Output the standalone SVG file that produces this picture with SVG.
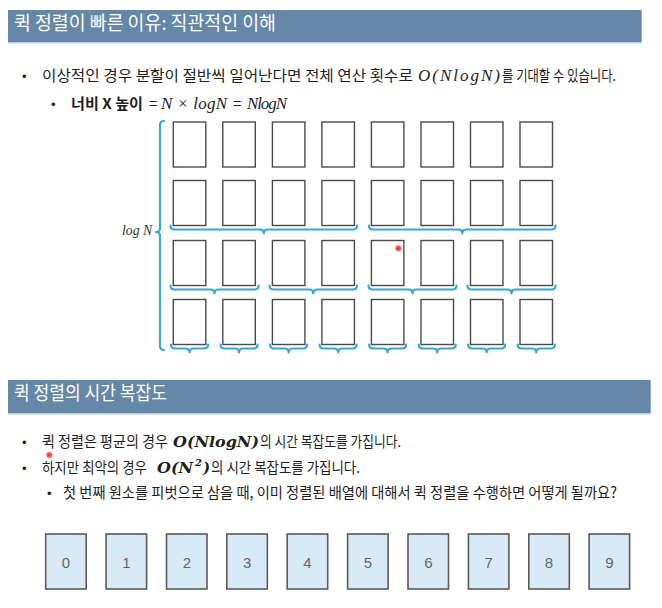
<svg xmlns="http://www.w3.org/2000/svg" width="662" height="608" viewBox="0 0 662 608">
<style>
.hdr{fill:#6587a8}
.hline{fill:#b9cfe2}
.ttl{font-family:"Noto Sans CJK KR","Noto Sans",sans-serif;font-size:19px;fill:#ffffff}
.ko{font-family:"Noto Sans CJK KR","Noto Sans",sans-serif;font-size:15px;fill:#1e1e1e}
.bul{font-family:"Liberation Sans",sans-serif;font-size:13px;fill:#1e1e1e}
.m{font-family:"Liberation Serif","DejaVu Serif",serif;font-style:italic;font-size:17px;fill:#1e1e1e}
.mb{font-family:"DejaVu Serif","Liberation Serif",serif;font-style:italic;font-weight:bold;font-size:15px;fill:#1e1e1e}
.cell{fill:#ffffff;stroke:#4a4a4a;stroke-width:1.4}
.brace{fill:none;stroke:#3aa6d6;stroke-width:2.2;stroke-linecap:round;stroke-linejoin:round}
.card{fill:#d7eaf6;stroke:#5a5a5a;stroke-width:1.6}
.num{font-family:"Liberation Sans",Arial,sans-serif;font-size:15px;fill:#666666;text-anchor:middle}
</style>
<defs>
<radialGradient id="dot">
<stop offset="0" stop-color="#ff2020"/>
<stop offset="0.55" stop-color="#ff3030" stop-opacity="0.8"/>
<stop offset="1" stop-color="#ff6060" stop-opacity="0"/>
</radialGradient>
</defs>
<rect width="662" height="608" fill="#ffffff"/>

<!-- Section 1 header -->
<g id="header1">
<rect class="hdr" x="8" y="10" width="633.7" height="32"/>
<rect class="hline" x="8" y="42" width="633.7" height="1.5"/>
<text class="ttl" x="14" y="30" textLength="262" lengthAdjust="spacingAndGlyphs">퀵 정렬이 빠른 이유: 직관적인 이해</text>
</g>

<g id="bullets1">
<text class="bul" x="22" y="81">•</text>
<text class="ko" x="42" y="81" textLength="371" lengthAdjust="spacingAndGlyphs">이상적인 경우 분할이 절반씩 일어난다면 전체 연산 횟수로</text>
<text class="m" x="418" y="81" textLength="82" lengthAdjust="spacing">O(NlogN)</text>
<text class="ko" x="502" y="81" textLength="114" lengthAdjust="spacingAndGlyphs">를 기대할 수 있습니다.</text>
<text class="bul" x="51" y="109">•</text>
<text class="ko" x="71" y="109" font-weight="bold" textLength="72" lengthAdjust="spacingAndGlyphs">너비 X 높이</text>
<text class="ko" x="149" y="109">=</text>
<text class="m" x="161" y="109" textLength="66" lengthAdjust="spacing">N × logN</text>
<text class="ko" x="233" y="109">=</text>
<text class="m" x="247" y="109" textLength="40" lengthAdjust="spacing">NlogN</text>
</g>

<!-- grid of cells -->
<g id="grid">
<g id="row1">
<rect class="cell" x="173.3" y="122" width="32.5" height="45"/>
<rect class="cell" x="222.8" y="122" width="32.5" height="45"/>
<rect class="cell" x="272.4" y="122" width="32.5" height="45"/>
<rect class="cell" x="321.9" y="122" width="32.5" height="45"/>
<rect class="cell" x="371.4" y="122" width="32.5" height="45"/>
<rect class="cell" x="421" y="122" width="32.5" height="45"/>
<rect class="cell" x="470.5" y="122" width="32.5" height="45"/>
<rect class="cell" x="520" y="122" width="32.5" height="45"/>
</g>
<g id="row2">
<rect class="cell" x="173.3" y="180.5" width="32.5" height="45"/>
<rect class="cell" x="222.8" y="180.5" width="32.5" height="45"/>
<rect class="cell" x="272.4" y="180.5" width="32.5" height="45"/>
<rect class="cell" x="321.9" y="180.5" width="32.5" height="45"/>
<rect class="cell" x="371.4" y="180.5" width="32.5" height="45"/>
<rect class="cell" x="421" y="180.5" width="32.5" height="45"/>
<rect class="cell" x="470.5" y="180.5" width="32.5" height="45"/>
<rect class="cell" x="520" y="180.5" width="32.5" height="45"/>
</g>
<g id="row3">
<rect class="cell" x="173.3" y="240.5" width="32.5" height="45"/>
<rect class="cell" x="222.8" y="240.5" width="32.5" height="45"/>
<rect class="cell" x="272.4" y="240.5" width="32.5" height="45"/>
<rect class="cell" x="321.9" y="240.5" width="32.5" height="45"/>
<rect class="cell" x="371.4" y="240.5" width="32.5" height="45"/>
<rect class="cell" x="421" y="240.5" width="32.5" height="45"/>
<rect class="cell" x="470.5" y="240.5" width="32.5" height="45"/>
<rect class="cell" x="520" y="240.5" width="32.5" height="45"/>
</g>
<g id="row4">
<rect class="cell" x="173.3" y="299.5" width="32.5" height="45"/>
<rect class="cell" x="222.8" y="299.5" width="32.5" height="45"/>
<rect class="cell" x="272.4" y="299.5" width="32.5" height="45"/>
<rect class="cell" x="321.9" y="299.5" width="32.5" height="45"/>
<rect class="cell" x="371.4" y="299.5" width="32.5" height="45"/>
<rect class="cell" x="421" y="299.5" width="32.5" height="45"/>
<rect class="cell" x="470.5" y="299.5" width="32.5" height="45"/>
<rect class="cell" x="520" y="299.5" width="32.5" height="45"/>
</g>
</g>

<g id="braces">
<path class="brace" d="M164,121 Q160,121 160,125 V228 Q160,232 156,232 Q160,232 160,236 V346 Q160,350 164,350"/>
<path class="brace" d="M170.5,225.5 Q170.5,229.5 174.5,229.5 H259.8 Q263.8,229.5 263.8,233.5 Q263.8,229.5 267.8,229.5 H353 Q357,229.5 357,225.5"/>
<path class="brace" d="M369,225.5 Q369,229.5 373,229.5 H458.3 Q462.3,229.5 462.3,233.5 Q462.3,229.5 466.3,229.5 H551.5 Q555.5,229.5 555.5,225.5"/>
<path class="brace" d="M170.5,285.5 Q170.5,289.5 174.5,289.5 H210.5 Q214.5,289.5 214.5,293.5 Q214.5,289.5 218.5,289.5 H254.5 Q258.5,289.5 258.5,285.5"/>
<path class="brace" d="M269.5,285.5 Q269.5,289.5 273.5,289.5 H309.3 Q313.3,289.5 313.3,293.5 Q313.3,289.5 317.3,289.5 H353 Q357,289.5 357,285.5"/>
<path class="brace" d="M368.5,285.5 Q368.5,289.5 372.5,289.5 H408.5 Q412.5,289.5 412.5,293.5 Q412.5,289.5 416.5,289.5 H452.5 Q456.5,289.5 456.5,285.5"/>
<path class="brace" d="M467.5,285.5 Q467.5,289.5 471.5,289.5 H507.5 Q511.5,289.5 511.5,293.5 Q511.5,289.5 515.5,289.5 H551.5 Q555.5,289.5 555.5,285.5"/>
<path class="brace" d="M171,344.5 Q171,348.5 175,348.5 H185.5 Q189.5,348.5 189.5,352.5 Q189.5,348.5 193.5,348.5 H204 Q208,348.5 208,344.5"/>
<path class="brace" d="M220.5,344.5 Q220.5,348.5 224.5,348.5 H235 Q239,348.5 239,352.5 Q239,348.5 243,348.5 H253.5 Q257.5,348.5 257.5,344.5"/>
<path class="brace" d="M270.1,344.5 Q270.1,348.5 274.1,348.5 H284.6 Q288.6,348.5 288.6,352.5 Q288.6,348.5 292.6,348.5 H303.1 Q307.1,348.5 307.1,344.5"/>
<path class="brace" d="M319.6,344.5 Q319.6,348.5 323.6,348.5 H334.1 Q338.1,348.5 338.1,352.5 Q338.1,348.5 342.1,348.5 H352.6 Q356.6,348.5 356.6,344.5"/>
<path class="brace" d="M369.1,344.5 Q369.1,348.5 373.1,348.5 H383.6 Q387.6,348.5 387.6,352.5 Q387.6,348.5 391.6,348.5 H402.1 Q406.1,348.5 406.1,344.5"/>
<path class="brace" d="M418.7,344.5 Q418.7,348.5 422.7,348.5 H433.2 Q437.2,348.5 437.2,352.5 Q437.2,348.5 441.2,348.5 H451.7 Q455.7,348.5 455.7,344.5"/>
<path class="brace" d="M468.2,344.5 Q468.2,348.5 472.2,348.5 H482.7 Q486.7,348.5 486.7,352.5 Q486.7,348.5 490.7,348.5 H501.2 Q505.2,348.5 505.2,344.5"/>
<path class="brace" d="M517.7,344.5 Q517.7,348.5 521.7,348.5 H532.2 Q536.2,348.5 536.2,352.5 Q536.2,348.5 540.2,348.5 H550.7 Q554.7,348.5 554.7,344.5"/>
</g>

<g id="logN-label">
<text x="122" y="235" font-family="Liberation Serif,serif" font-style="italic" font-size="14" fill="#333333" textLength="30" lengthAdjust="spacingAndGlyphs">log N</text>
</g>

<!-- Section 2 header -->
<g id="header2">
<rect class="hdr" x="8" y="380" width="642.7" height="33"/>
<rect class="hline" x="8" y="413" width="642.7" height="1.5"/>
<text class="ttl" x="14" y="400" textLength="153" lengthAdjust="spacingAndGlyphs">퀵 정렬의 시간 복잡도</text>
</g>

<g id="bullets2">
<text class="bul" x="22" y="447">•</text>
<text class="ko" x="42" y="447" textLength="126" lengthAdjust="spacingAndGlyphs">퀵 정렬은 평균의 경우</text>
<text class="mb" x="173" y="447" textLength="86" lengthAdjust="spacingAndGlyphs">O(NlogN)</text>
<text class="ko" x="260" y="447" textLength="141" lengthAdjust="spacingAndGlyphs">의 시간 복잡도를 가집니다.</text>
<text class="bul" x="22" y="473">•</text>
<text class="ko" x="42" y="473" textLength="105" lengthAdjust="spacingAndGlyphs">하지만 최악의 경우</text>
<text class="mb" x="157" y="473" textLength="36" lengthAdjust="spacingAndGlyphs">O(N</text>
<text class="mb" x="195" y="466" style="font-size:10px">2</text>
<text class="mb" x="203" y="473">)</text>
<text class="ko" x="211" y="473" textLength="149" lengthAdjust="spacingAndGlyphs">의 시간 복잡도를 가집니다.</text>
<text class="bul" x="47" y="498">•</text>
<text class="ko" x="63" y="498" textLength="554" lengthAdjust="spacingAndGlyphs">첫 번째 원소를 피벗으로 삼을 때, 이미 정렬된 배열에 대해서 퀵 정렬을 수행하면 어떻게 될까요?</text>
</g>

<g id="cards">
<g id="card0"><rect class="card" x="45.7" y="534" width="40.5" height="55"/><text class="num" x="66" y="568">0</text></g>
<g id="card1"><rect class="card" x="106.1" y="534" width="40.5" height="55"/><text class="num" x="126.4" y="568">1</text></g>
<g id="card2"><rect class="card" x="166.5" y="534" width="40.5" height="55"/><text class="num" x="186.8" y="568">2</text></g>
<g id="card3"><rect class="card" x="226.8" y="534" width="40.5" height="55"/><text class="num" x="247.1" y="568">3</text></g>
<g id="card4"><rect class="card" x="287.2" y="534" width="40.5" height="55"/><text class="num" x="307.5" y="568">4</text></g>
<g id="card5"><rect class="card" x="347.6" y="534" width="40.5" height="55"/><text class="num" x="367.9" y="568">5</text></g>
<g id="card6"><rect class="card" x="408" y="534" width="40.5" height="55"/><text class="num" x="428.3" y="568">6</text></g>
<g id="card7"><rect class="card" x="468.4" y="534" width="40.5" height="55"/><text class="num" x="488.7" y="568">7</text></g>
<g id="card8"><rect class="card" x="528.8" y="534" width="40.5" height="55"/><text class="num" x="549" y="568">8</text></g>
<g id="card9"><rect class="card" x="589.1" y="534" width="40.5" height="55"/><text class="num" x="609.4" y="568">9</text></g>
</g>

<g id="pointer-dots">
<circle cx="398.3" cy="248.3" r="4" fill="url(#dot)"/>
<circle cx="49.3" cy="455" r="4" fill="url(#dot)"/>
</g>
</svg>
